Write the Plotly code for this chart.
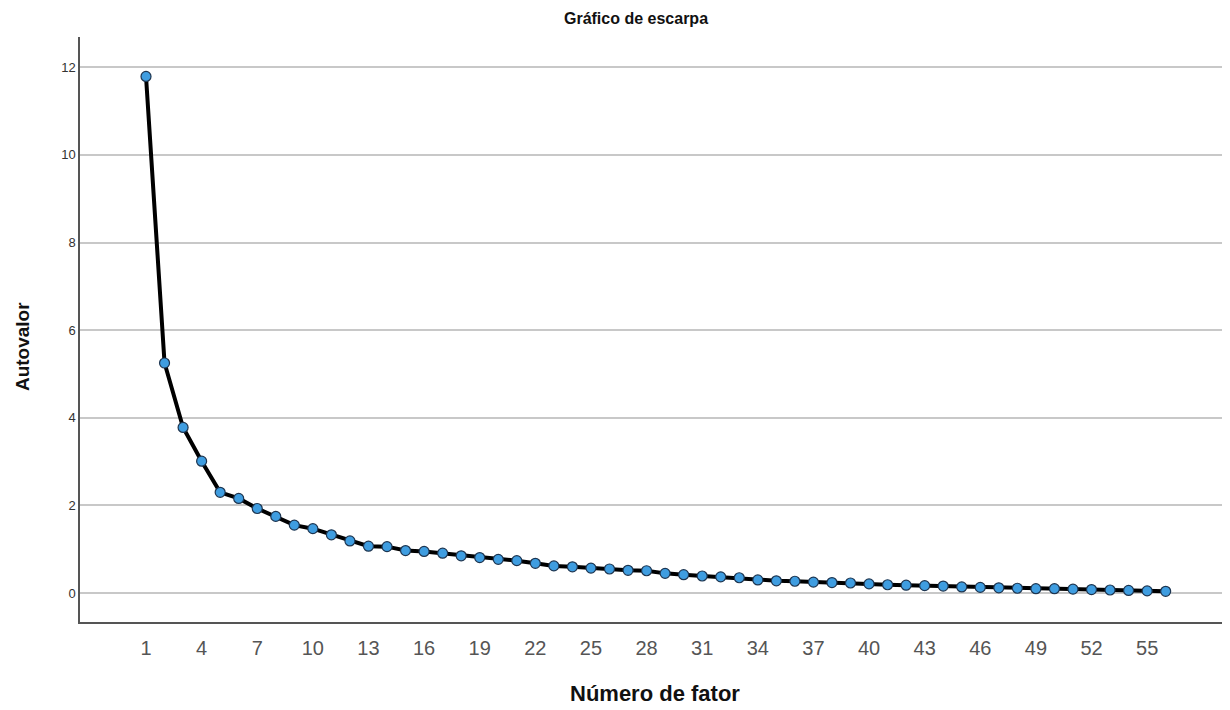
import plotly.graph_objects as go

factors = list(range(1, 57))
eigenvalues = [
    11.79, 5.25, 3.78, 3.01, 2.30, 2.16, 1.93, 1.75, 1.55, 1.47,
    1.33, 1.19, 1.07, 1.06, 0.97, 0.95, 0.91, 0.85, 0.81, 0.77,
    0.74, 0.68, 0.62, 0.60, 0.57, 0.55, 0.52, 0.51, 0.45, 0.42,
    0.39, 0.37, 0.35, 0.30, 0.28, 0.27, 0.25, 0.24, 0.23, 0.21,
    0.19, 0.18, 0.17, 0.16, 0.14, 0.13, 0.12, 0.11, 0.10, 0.10,
    0.09, 0.08, 0.07, 0.06, 0.05, 0.04,
]
x_ticks = list(range(1, 56, 3))
y_ticks = [0, 2, 4, 6, 8, 10, 12]

title_text = "Gráfico de escarpa"
x_title = "Número de fator"
y_title = "Autovalor"

FONT = "Liberation Sans, Arial, sans-serif"

W, H = 1222, 702  # page body has an 8px margin

fig = go.Figure()
fig.add_trace(go.Scatter(
    x=factors, y=eigenvalues, mode="lines+markers",
    line=dict(color="#000000", width=4),
    marker=dict(size=10, color="#3f9de0", line=dict(color="#1d3550", width=1.2)),
    showlegend=False,
))

fig.update_layout(
    width=W, height=H,
    margin=dict(l=72, r=0, t=29, b=88),
    paper_bgcolor="white", plot_bgcolor="white",
    font=dict(family=FONT, color="#222"),
    title=dict(text="<b>" + title_text + "</b>", x=(636 - 8) / W, xref="container",
               y=1 - 10 / H, yref="container", yanchor="middle", xanchor="center",
               font=dict(size=16, color="#111", family=FONT)),
    xaxis=dict(range=[-2.56, 59.47], tickmode="array", tickvals=x_ticks,
               ticktext=[str(v) for v in x_ticks], showgrid=False, zeroline=False,
               showline=True, linecolor="#555", linewidth=1.5,
               ticks="outside", ticklen=7, tickcolor="rgba(0,0,0,0)",
               tickfont=dict(size=20, color="#555", family=FONT)),
    yaxis=dict(range=[-0.66, 12.69], tickmode="array", tickvals=y_ticks,
               showgrid=True, gridcolor="#c8c8c8", gridwidth=1.5, zeroline=False,
               showline=True, linecolor="#555", linewidth=1.5,
               ticks="", tickfont=dict(size=13, color="#333", family=FONT)),
    annotations=[
        dict(text="<b>" + x_title + "</b>", xref="paper", yref="paper",
             x=(655 - 80) / 1150,
             y=(622 - 693) / 585, xanchor="center", yanchor="middle", showarrow=False,
             font=dict(size=22, color="#111", family=FONT)),
        dict(text="<b>" + y_title + "</b>", xref="paper", yref="paper",
             x=(22 - 80) / 1150, y=0.47, xanchor="center", yanchor="middle",
             textangle=-90, showarrow=False,
             font=dict(size=19, color="#111", family=FONT)),
    ],
)

fig.write_html("out.html")
